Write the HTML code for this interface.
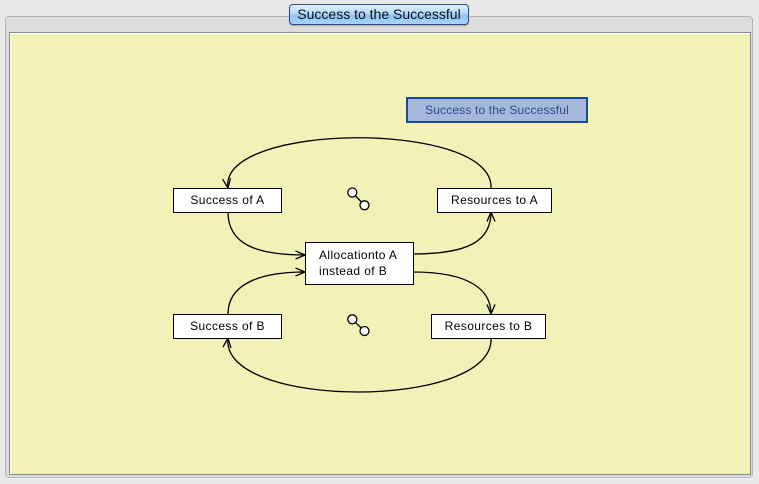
<!DOCTYPE html>
<html><head><meta charset="utf-8"><style>
html,body{margin:0;padding:0;}
body{width:759px;height:484px;background:#e8e8e8;position:relative;overflow:hidden;font-family:"Liberation Sans","DejaVu Sans",sans-serif;}
.panel{position:absolute;left:5px;top:16px;width:746px;height:460px;background:#dcdcdc;border:1px solid #b4b4b4;border-radius:4px;box-shadow:0 1px 0 #f4f4f4;}
.canvas{position:absolute;left:9px;top:32px;width:740px;height:441px;background:#f2f1b8;border:1px solid #8a8a8a;box-shadow:inset 1px 1px 0 #ffffff;}
.btn{position:absolute;left:289px;top:4px;width:178px;height:19px;border:1px solid #2c4c8c;border-radius:4px;background:linear-gradient(#e2f1ff 0%,#b4d8fb 45%,#8cc3f3 55%,#a8d4fb 100%);box-shadow:0 1px 1px rgba(0,0,0,0.25);font-size:14px;line-height:19px;text-align:center;color:#111;}
.lbl{position:absolute;left:406px;top:97px;width:178px;height:22px;background:#a4b8dc;border:2px solid #1c4a96;font-size:12px;line-height:22px;text-align:center;color:#2b4c8c;letter-spacing:0.15px;}
.node{position:absolute;background:#fff;border:1px solid #000;font-size:12px;text-align:center;color:#000;box-sizing:border-box;letter-spacing:0.4px;}
svg{position:absolute;left:0;top:0;}
</style></head><body>
<div class="panel"></div>
<div class="canvas"></div>
<div class="btn">Success to the Successful</div>
<div class="lbl">Success to the Successful</div>

<svg width="759" height="484" viewBox="0 0 759 484">
<defs>
<marker id="ar" viewBox="0 0 10 10" refX="10" refY="5" markerWidth="10" markerHeight="10" markerUnits="userSpaceOnUse" orient="auto">
<path d="M0.5,1 L10,5 L0.5,9" fill="none" stroke="#000" stroke-width="1.3"/>
</marker>
</defs>
<g fill="none" stroke="#000" stroke-width="1.3">
<path d="M491 188 C 494 120, 218 122, 228 188" marker-end="url(#ar)"/>
<path d="M228 212 C 228 245, 258 255, 305 255" marker-end="url(#ar)"/>
<path d="M413 254 C 470 254, 491 240, 491 212" marker-end="url(#ar)"/>
<path d="M413 272 C 470 272, 491 290, 491 314" marker-end="url(#ar)"/>
<path d="M491 338 C 495 410, 220 410, 228 338" marker-end="url(#ar)"/>
<path d="M228 314 C 228 285, 258 272, 305 272" marker-end="url(#ar)"/>
</g>
<g stroke="#000" stroke-width="1.3" fill="#fff">
<line x1="352" y1="192.5" x2="364.5" y2="205"/>
<circle cx="352.3" cy="192.5" r="4.5"/>
<circle cx="364.5" cy="205.3" r="4.5"/>
<line x1="352" y1="319.3" x2="364.5" y2="331"/>
<circle cx="352.3" cy="319.3" r="4.5"/>
<circle cx="364.5" cy="331" r="4.5"/>
</g>
</svg>

<div class="node" style="left:173px;top:188px;width:109px;height:25px;line-height:23px;">Success of A</div>
<div class="node" style="left:437px;top:188px;width:115px;height:25px;line-height:23px;">Resources to A</div>
<div class="node" style="left:305px;top:242px;width:109px;height:43px;text-align:left;padding:4px 0 0 13px;line-height:16px;">Allocationto A<br>instead of B</div>
<div class="node" style="left:173px;top:314px;width:109px;height:25px;line-height:23px;">Success of B</div>
<div class="node" style="left:431px;top:314px;width:115px;height:25px;line-height:23px;">Resources to B</div>
</body></html>
